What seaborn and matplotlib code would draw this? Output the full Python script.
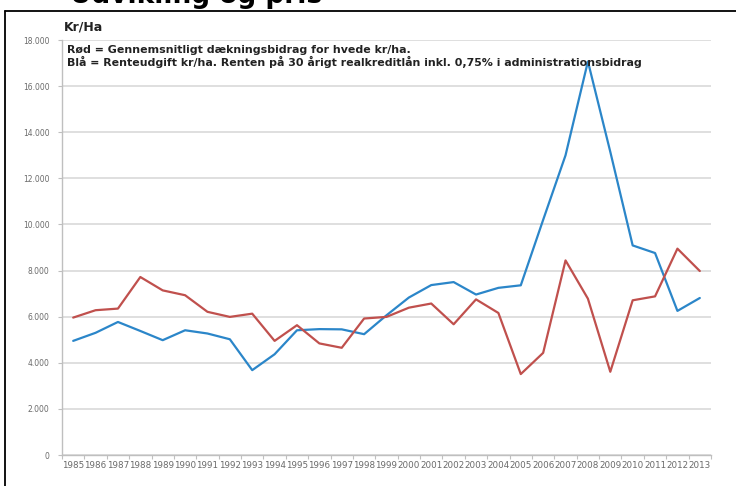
import matplotlib
matplotlib.use("Agg")
import matplotlib.pyplot as plt
import seaborn as sns
import pandas as pd
import numpy as np
from matplotlib.ticker import FuncFormatter, FixedLocator

years = [str(y) for y in range(1985, 2014)]
roed_daekningsbidrag = [5960, 6280, 6350, 7720, 7140, 6930, 6210, 5990, 6130, 4950,
                        5630, 4840, 4650, 5920, 5990, 6390, 6570, 5670, 6750, 6160,
                        3510, 4430, 8440, 6780, 3610, 6710, 6880, 8950, 7980]
blaa_renteudgift = [4950, 5300, 5770, 5380, 4980, 5410, 5270, 5020, 3680, 4370,
                    5410, 5460, 5450, 5240, 6060, 6830, 7370, 7500, 6960, 7250,
                    7360, 10200, 13000, 17070, 13150, 9090, 8760, 6250, 6810]
y_ticks = [0, 2000, 4000, 6000, 8000, 10000, 12000, 14000, 16000, 18000]

series_names = ["Rød", "Blå"]
df = pd.DataFrame({
    "idx": list(range(len(years))) * 2,
    "value": roed_daekningsbidrag + blaa_renteudgift,
    "serie": [series_names[0]] * len(years) + [series_names[1]] * len(years),
})

sns.set_theme(style="white")
plt.rcParams["font.family"] = ["DejaVu Sans"]

fig = plt.figure(figsize=(7.36, 4.86), dpi=100)
ax = fig.add_axes([62 / 736, 31 / 486, 649 / 736, 415 / 486])

sns.lineplot(data=df, x="idx", y="value", hue="serie",
             palette={"Rød": "#C0504D", "Blå": "#2B86C9"},
             hue_order=["Blå", "Rød"], linewidth=1.6, ax=ax, legend=False,
             sort=False)

ax.set_xlim(-0.5, len(years) - 0.5)
ax.set_ylim(0, 18000)
ax.set_xlabel("")
ax.set_ylabel("")

ax.xaxis.set_major_locator(FixedLocator(list(range(len(years)))))
ax.set_xticklabels(years, fontsize=6.3, color="#6a6a6a")
ax.xaxis.set_minor_locator(FixedLocator([i - 0.5 for i in range(len(years) + 1)]))
ax.tick_params(axis="x", which="major", length=0, pad=4)
ax.tick_params(axis="x", which="minor", length=3, color="#BFBFBF", width=0.8,
               bottom=True)

ax.yaxis.set_major_locator(FixedLocator(y_ticks))
ax.yaxis.set_major_formatter(FuncFormatter(
    lambda v, p: "0" if v == 0 else f"{int(v):,}".replace(",", ".")))
ax.tick_params(axis="y", which="major", length=3, color="#BFBFBF", width=0.8,
               labelsize=5.5, labelcolor="#6a6a6a", pad=6, left=True)

ax.grid(axis="y", color="#D9D9D9", linewidth=1.2)
ax.set_axisbelow(True)
for s in ["top", "right"]:
    ax.spines[s].set_visible(False)
for s in ["left", "bottom"]:
    ax.spines[s].set_color("#BFBFBF")
    ax.spines[s].set_linewidth(1.0)

# outer frame (left and top visible)
fig.add_artist(plt.Line2D([5 / 736, 5 / 736], [0, 1 - 11 / 486],
                          transform=fig.transFigure, color="black", linewidth=1.3))
fig.add_artist(plt.Line2D([5 / 736, 1], [1 - 11 / 486, 1 - 11 / 486],
                          transform=fig.transFigure, color="black", linewidth=1.3))

# cropped slide title at the very top (only its lower edge is visible)
fig.text(70 / 736, 1 - 3 / 486, "Udvikling og pris", fontsize=19,
         fontweight="bold", color="black", va="baseline", ha="left")

fig.text(64 / 736, 1 - 27 / 486, "Kr/Ha", fontsize=9, fontweight="bold",
         color="#222222", va="center", ha="left")
fig.text(67 / 736, 1 - 50 / 486,
         "Rød = Gennemsnitligt dækningsbidrag for hvede kr/ha.",
         fontsize=7.9, fontweight="bold", color="#222222", va="center", ha="left")
fig.text(67 / 736, 1 - 62 / 486,
         "Blå = Renteudgift kr/ha. Renten på 30 årigt realkreditlån inkl. 0,75% i administrationsbidrag",
         fontsize=7.9, fontweight="bold", color="#222222", va="center", ha="left")

fig.savefig("out.png", dpi=100, facecolor="white")
